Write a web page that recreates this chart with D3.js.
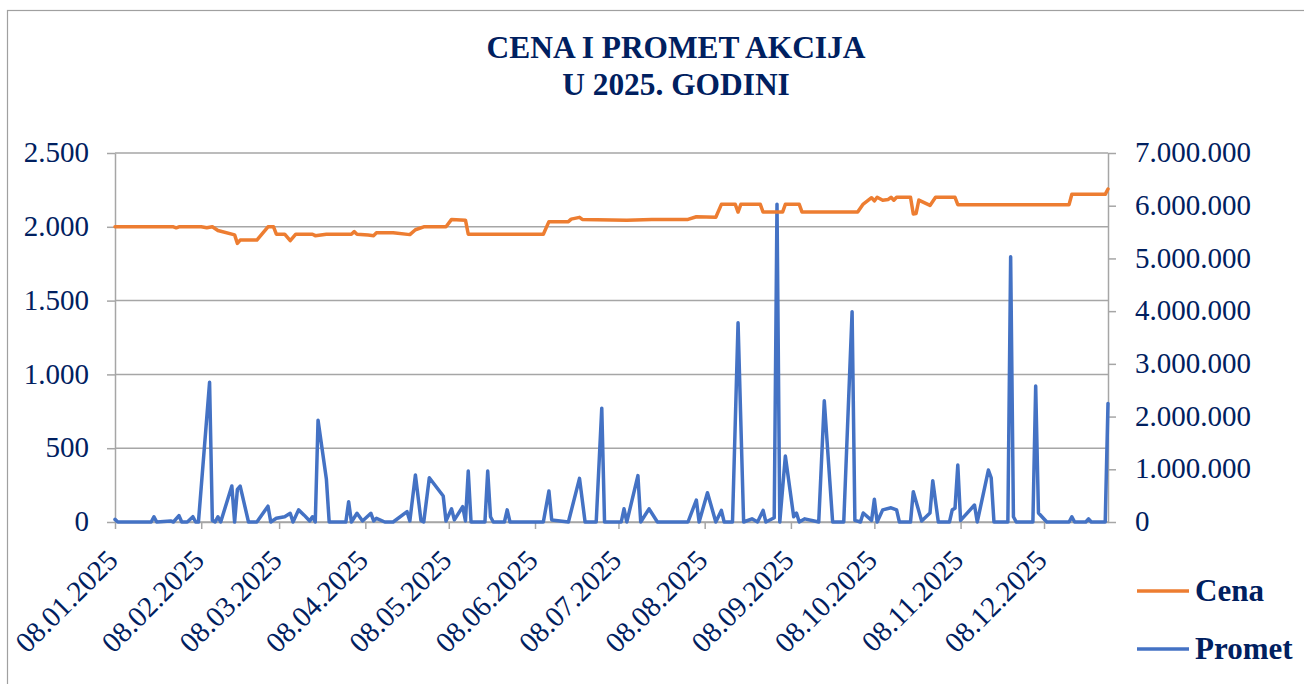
<!DOCTYPE html>
<html>
<head>
<meta charset="utf-8">
<script src="https://cdn.jsdelivr.net/npm/d3@7.9.0/dist/d3.min.js"></script>
<style>
  html, body { margin: 0; padding: 0; background: #fff; }
  svg { display: block; }
</style>
</head>
<body>
<svg id="chart" width="1304" height="684"></svg>
<script>
// podaci (procenjeni sa slike)
const naslov = ["CENA I PROMET AKCIJA", "U 2025. GODINI"];
const serije = ["Cena", "Promet"];

const cenaDatumi = ["01-08","01-29","01-30","01-31","02-08","02-10","02-12","02-14","02-20","02-21",
  "02-22","02-28","03-04","03-06","03-07","03-10","03-12","03-14","03-20","03-21",
  "03-25","04-03","04-04","04-05","04-09","04-11","04-12","04-18","04-24","04-26",
  "04-29","05-07","05-09","05-14","05-15","06-11","06-13","06-20","06-21","06-24",
  "06-25","07-11","07-20","08-02","08-05","08-12","08-14","08-19","08-20","08-21",
  "08-28","08-29","09-05","09-06","09-11","09-12","10-02","10-04","10-07","10-08",
  "10-09","10-11","10-13","10-14","10-15","10-16","10-21","10-22","10-23","10-24",
  "10-28","10-30","11-06","11-07","12-17","12-18","12-30","12-31"];
const cena = [2000,2000,1993,2000,2000,1993,2000,1975,1945,1888,
  1910,1910,2000,2000,1950,1950,1906,1950,1950,1940,
  1950,1950,1967,1950,1944,1940,1960,1960,1947,1980,
  2000,2000,2050,2045,1950,1950,2035,2035,2052,2064,
  2050,2045,2050,2050,2068,2065,2152,2152,2100,2152,
  2152,2100,2100,2152,2152,2100,2100,2154,2197,2175,
  2200,2180,2185,2200,2180,2200,2200,2087,2090,2181,
  2145,2200,2200,2150,2150,2220,2220,2256];

const prometDatumi = ["01-08","01-09","01-21","01-22","01-23","01-28","01-29","01-31","02-01","02-03",
  "02-05","02-06","02-07","02-11","02-12","02-13","02-14","02-15","02-19","02-20",
  "02-21","02-22","02-25","02-28","03-04","03-05","03-07","03-10","03-12","03-13",
  "03-15","03-17","03-19","03-20","03-21","03-22","03-25","03-26","04-01","04-02",
  "04-03","04-05","04-07","04-10","04-11","04-12","04-15","04-18","04-23","04-24",
  "04-26","04-28","04-29","05-01","05-06","05-07","05-09","05-10","05-13","05-14",
  "05-15","05-16","05-21","05-22","05-23","05-24","05-28","05-29","05-30","06-11",
  "06-13","06-14","06-20","06-24","06-26","06-30","07-02","07-03","07-09","07-10",
  "07-11","07-15","07-16","07-19","07-22","08-02","08-05","08-06","08-09","08-12",
  "08-14","08-15","08-18","08-20","08-22","08-25","08-27","08-29","08-30","09-02",
  "09-03","09-04","09-06","09-09","09-10","09-11","09-13","09-18","09-20","09-23",
  "09-27","09-30","10-01","10-03","10-04","10-07","10-08","10-09","10-11","10-14",
  "10-16","10-17","10-21","10-22","10-25","10-28","10-29","10-31","11-04","11-05",
  "11-06","11-07","11-08","11-13","11-14","11-18","11-19","11-20","11-25","11-26",
  "11-27","11-28","12-04","12-05","12-06","12-09","12-17","12-18","12-19","12-23",
  "12-24","12-25","12-30","12-31"];
const promet = [50000,0,0,100000,0,20000,0,120000,0,0,
  100000,0,0,2650000,30000,0,100000,0,683000,0,
  620000,680000,0,0,300000,0,70000,100000,165000,0,
  230000,130000,20000,100000,0,1930000,810000,0,0,385000,
  0,165000,20000,165000,20000,70000,0,0,196000,20000,
  890000,30000,0,840000,493000,20000,250000,40000,290000,20000,
  967000,0,0,967000,100000,0,0,230000,0,0,
  588000,40000,0,828000,0,0,2160000,0,0,250000,
  0,880000,0,250000,0,0,417000,0,556000,0,
  220000,0,0,3780000,0,60000,0,220000,0,80000,
  6030000,0,1250000,100000,170000,0,60000,0,2300000,0,
  0,3990000,30000,0,170000,30000,430000,0,230000,270000,
  230000,0,0,575000,20000,170000,784000,0,0,230000,
  260000,1080000,30000,322000,0,986000,840000,0,0,5030000,
  100000,0,0,2580000,170000,0,0,100000,0,0,
  60000,0,0,2250000];

const xTickDatumi = ["01-08","02-08","03-08","04-08","05-08","06-08","07-08","08-08","09-08","10-08","11-08","12-08"];
const cenaTicks = [0, 500, 1000, 1500, 2000, 2500];
const prometTicks = [0, 1000000, 2000000, 3000000, 4000000, 5000000, 6000000, 7000000];

const boje = { Cena: "#ED7D31", Promet: "#4472C4" };
const tekst = "#002060";
const siva = "#a6a6a6";
const font = '"Liberation Serif"';

const parse = d3.utcParse("%Y-%m-%d");
const datum = (s) => parse("2025-" + s);
const fmtDatum = d3.utcFormat("%d.%m.%Y");
const fmtBroj = d3.formatLocale({ decimal: ",", thousands: ".", grouping: [3], currency: ["", ""] }).format(",d");

const plot = { left: 115, right: 1108, top: 153, bottom: 522 };

const x = d3.scaleUtc()
    .domain([datum(cenaDatumi[0]), datum(cenaDatumi[cenaDatumi.length - 1])])
    .range([plot.left, plot.right]);
const yCena = d3.scaleLinear().domain([0, 2500]).range([plot.bottom, plot.top]);
const yPromet = d3.scaleLinear().domain([0, 7000000]).range([plot.bottom, plot.top]);

const svg = d3.select('#chart');

svg.append('rect')
    .attr('x', 7.5).attr('y', 10.5)
    .attr('width', 1320).attr('height', 700)
    .attr('fill', '#fff')
    .attr('stroke', '#a0a0a0')
    .attr('stroke-width', 1.2);

// svaki tekst dobija font direktno
function slova(sel, size, bold) {
    sel.style('font-family', font)
        .style('font-size', size + 'px')
        .style('font-weight', bold ? 'bold' : 'normal')
        .attr('fill', tekst);
}

// naslov
svg.append('g')
    .selectAll('text')
    .data(naslov)
    .join('text')
    .attr('x', 676)
    .attr('y', (d, i) => 58 + i * 37)
    .attr('text-anchor', 'middle')
    .call(slova, 31.4, true)
    .text(d => d);

// mreza
svg.append('g')
    .selectAll('line')
    .data(cenaTicks)
    .join('line')
    .attr('x1', plot.left).attr('x2', plot.right)
    .attr('y1', d => yCena(d)).attr('y2', d => yCena(d))
    .attr('stroke', siva)
    .attr('stroke-width', 1.5);

function stilAxis(g) {
    g.attr('font-family', null).attr('font-size', null);
    g.selectAll('.domain').attr('stroke', siva).attr('stroke-width', 1.5);
    g.selectAll('.tick line').attr('stroke', siva).attr('stroke-width', 1.5);
    g.selectAll('.tick text').call(slova, 29, false);
}

// leva osa
svg.append('g')
    .attr('transform', `translate(${plot.left},0)`)
    .call(d3.axisLeft(yCena).tickValues(cenaTicks).tickFormat(fmtBroj).tickSize(8).tickSizeOuter(0).tickPadding(18))
    .call(stilAxis)
    .selectAll('.tick text').attr('dy', '0.3em');

// desna osa
svg.append('g')
    .attr('transform', `translate(${plot.right},0)`)
    .call(d3.axisRight(yPromet).tickValues(prometTicks).tickFormat(fmtBroj).tickSize(8).tickSizeOuter(0).tickPadding(19))
    .call(stilAxis)
    .selectAll('.tick text').attr('dy', '0.3em');

// donja osa
svg.append('g')
    .attr('transform', `translate(0,${plot.bottom})`)
    .call(d3.axisBottom(x).tickValues(xTickDatumi.map(datum)).tickFormat(fmtDatum).tickSize(7).tickSizeOuter(0))
    .call(stilAxis)
    .selectAll('.tick text')
    .attr('text-anchor', 'end')
    .attr('dy', null)
    .attr('y', null)
    .attr('transform', 'translate(4,40) rotate(-45)');

// linije
const linijaCena = d3.line()
    .x((d, i) => x(datum(cenaDatumi[i])))
    .y(d => yCena(d));
const linijaPromet = d3.line()
    .x((d, i) => x(datum(prometDatumi[i])))
    .y(d => yPromet(d));

svg.append('path')
    .datum(promet)
    .attr('d', linijaPromet)
    .attr('fill', 'none')
    .attr('stroke', boje.Promet)
    .attr('stroke-width', 3.5)
    .attr('stroke-linejoin', 'round')
    .attr('stroke-linecap', 'round');

svg.append('path')
    .datum(cena)
    .attr('d', linijaCena)
    .attr('fill', 'none')
    .attr('stroke', boje.Cena)
    .attr('stroke-width', 3.5)
    .attr('stroke-linejoin', 'round')
    .attr('stroke-linecap', 'round');

// legenda
const legenda = svg.append('g')
    .selectAll('g')
    .data(serije)
    .join('g')
    .attr('transform', (d, i) => `translate(1137,${591 + i * 58})`);
legenda.append('line')
    .attr('x1', 0).attr('x2', 52)
    .attr('stroke', d => boje[d])
    .attr('stroke-width', 3.5);
legenda.append('text')
    .attr('x', 58)
    .attr('y', 10)
    .call(slova, 31, true)
    .text(d => d);
</script>
</body>
</html>
